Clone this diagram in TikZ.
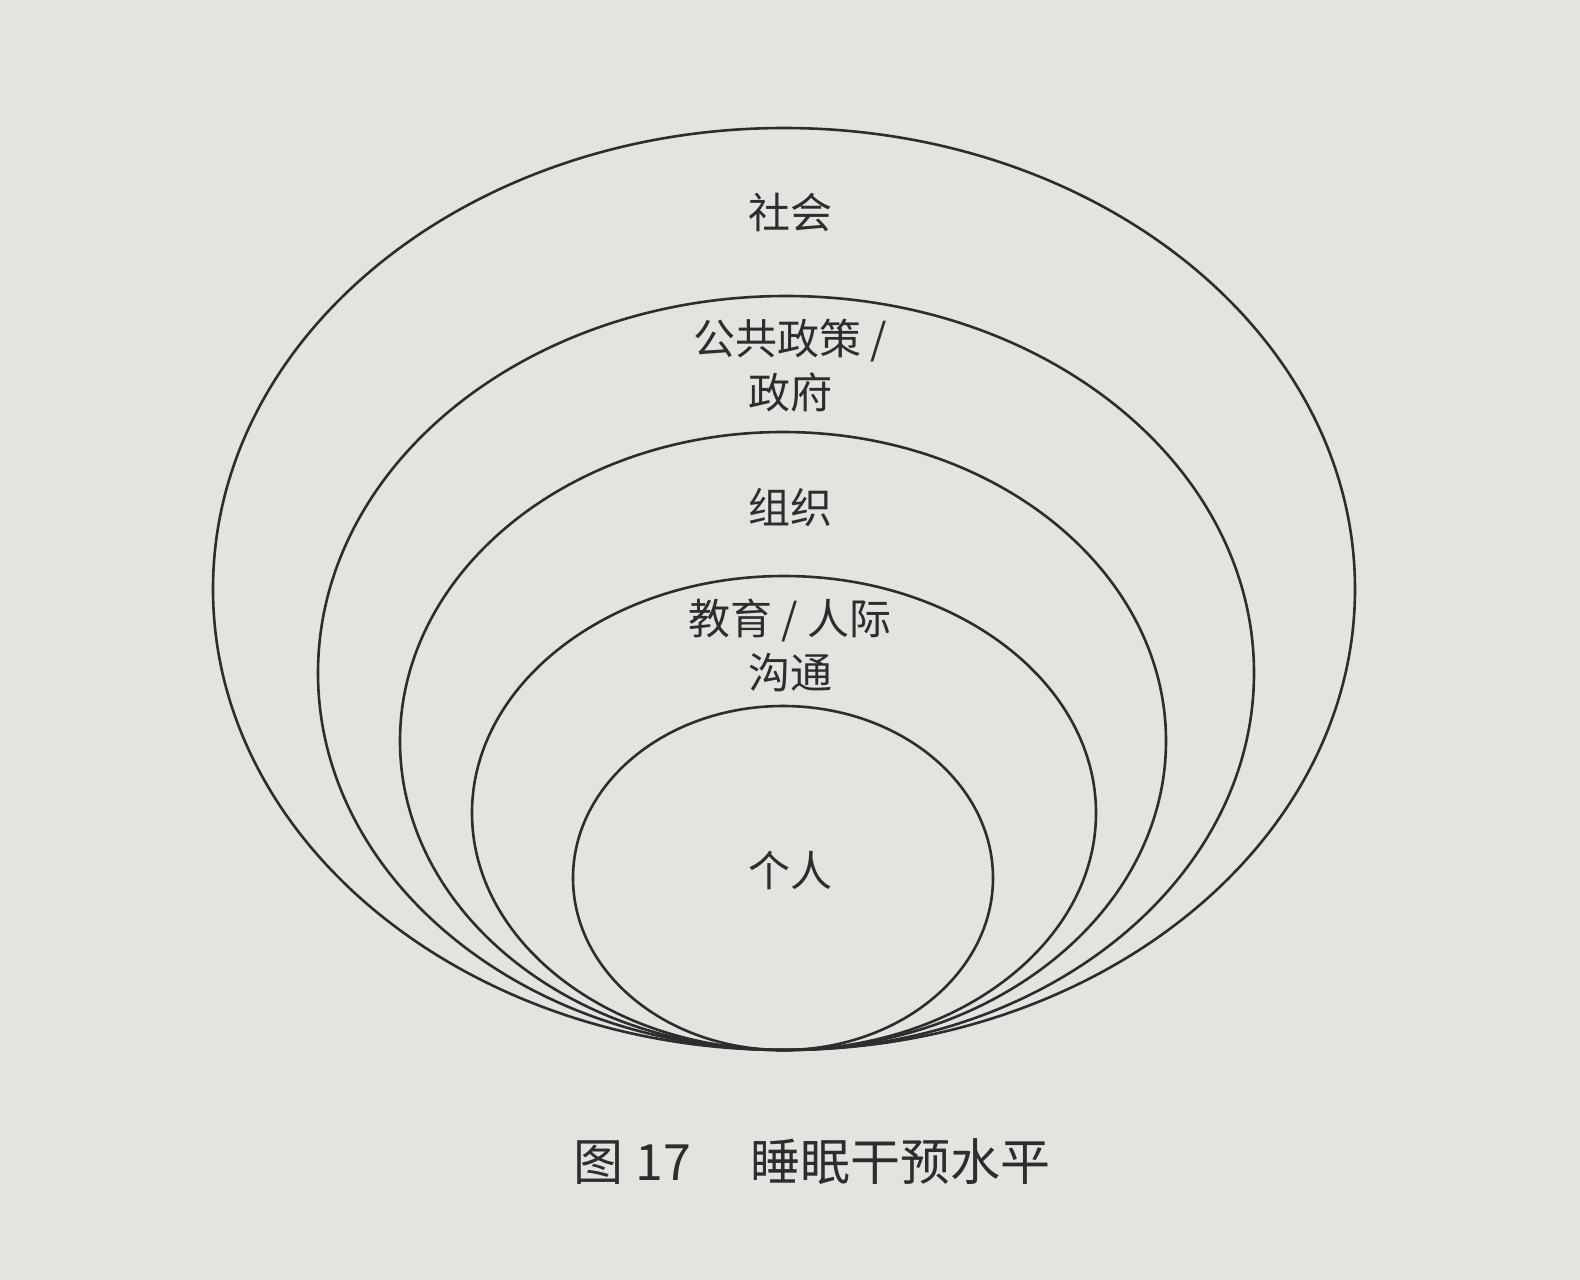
\documentclass[tikz,border=0pt]{standalone}
\usepackage{fontspec}
\newfontfamily\cjk{Noto Sans CJK SC}
\definecolor{paper}{RGB}{228,227,223}
\definecolor{ink}{RGB}{45,45,45}
\tikzset{
  ring/.style={draw=ink, line width=1.3pt},
  lbl/.style={text=ink, font=\cjk\fontsize{21}{27}\selectfont, align=center},
  captxt/.style={text=ink, font=\cjk\fontsize{25}{30}\selectfont}
}
\begin{document}
\begin{tikzpicture}[x=0.5pt,y=-0.5pt]
\fill[paper] (0,0) rectangle (1580,1280);
\useasboundingbox (0,0) rectangle (1580,1280);
\draw[ring] (784,589) ellipse [x radius=571, y radius=461];
\draw[ring] (786,673) ellipse [x radius=468, y radius=377];
\draw[ring] (783,741) ellipse [x radius=383, y radius=309];
\draw[ring] (784,813) ellipse [x radius=312, y radius=237];
\draw[ring] (783,878) ellipse [x radius=210, y radius=172];
\node[lbl] (s) at (790,212) {社会};
\node[lbl] (g) at (790,366) {公共政策 /\\政府};
\node[lbl] (o) at (790,508) {组织};
\node[lbl] (e) at (790,645) {教育 / 人际\\沟通};
\node[lbl] (p) at (790,870) {个人};
\node[captxt] (c) at (812,1162) {图\hspace{0.25em}17\hspace{1.2em}睡眠干预水平};
\end{tikzpicture}
\end{document}
